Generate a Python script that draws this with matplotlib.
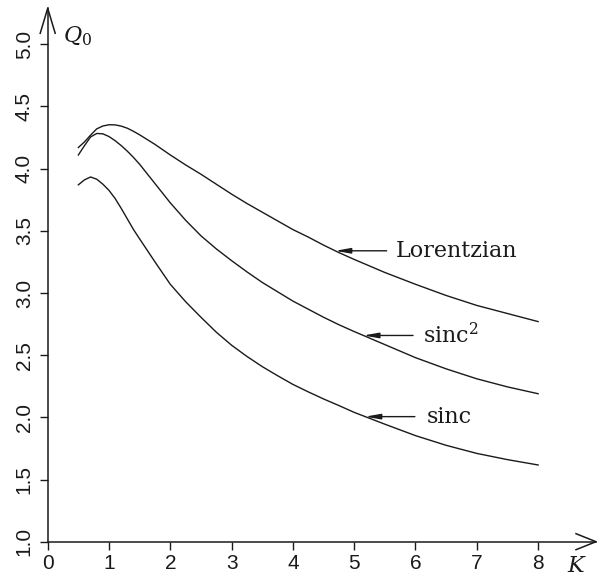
import numpy as np
import matplotlib
matplotlib.use("Agg")
import matplotlib.pyplot as plt

# Detection factor Q0 versus K for three line shapes
k_values = [0.5, 0.6, 0.7, 0.8, 0.9, 1.0, 1.1, 1.2, 1.3, 1.4, 1.5,
            1.75, 2.0, 2.25, 2.5, 2.75, 3.0, 3.25, 3.5, 3.75, 4.0, 4.25, 4.5, 4.75, 5.0,
            5.5, 6.0, 6.5, 7.0, 7.5, 8.0]
q_lorentzian = [4.17, 4.215, 4.27, 4.32, 4.343, 4.353, 4.352, 4.342, 4.325, 4.30, 4.272,
                4.195, 4.11, 4.03, 3.955, 3.875, 3.795, 3.72, 3.65, 3.58, 3.51, 3.45, 3.385,
                3.325, 3.27,
                3.165, 3.07, 2.98, 2.90, 2.835, 2.77]
q_sinc2 = [4.11, 4.185, 4.255, 4.283, 4.28, 4.258, 4.225, 4.185, 4.14, 4.09, 4.035,
           3.88, 3.725, 3.585, 3.46, 3.355, 3.26, 3.17, 3.085, 3.01, 2.935, 2.87, 2.805,
           2.745, 2.69,
           2.585, 2.48, 2.39, 2.31, 2.245, 2.19]
q_sinc = [3.87, 3.91, 3.933, 3.915, 3.875, 3.825, 3.76, 3.68, 3.595, 3.51, 3.435,
          3.25, 3.07, 2.93, 2.805, 2.685, 2.58, 2.49, 2.408, 2.335, 2.265, 2.205, 2.148,
          2.095, 2.04,
          1.945, 1.853, 1.775, 1.71, 1.66, 1.617]

series_names = ["Lorentzian", "sinc$^{2}$", "sinc"]
series_values = [q_lorentzian, q_sinc2, q_sinc]
arrow_tip_k = [4.69, 5.15, 5.18]
arrow_tail_k = [5.53, 5.96, 5.99]
label_k = [5.67, 6.12, 6.18]

x_ticks = [0, 1, 2, 3, 4, 5, 6, 7, 8]
y_ticks = [1.0, 1.5, 2.0, 2.5, 3.0, 3.5, 4.0, 4.5, 5.0]

ink = "#1a1a1a"
plt.rcParams["mathtext.fontset"] = "dejavuserif"

W, H = 597, 577
fig = plt.figure(figsize=(W / 100, H / 100), dpi=100)
x0_px, x_end_px = 47.7, 596.0
y0_px, y_top_px = 541.7, 8.3
ax = fig.add_axes([x0_px / W, 1 - y0_px / H, (x_end_px - x0_px) / W, (y0_px - y_top_px) / H])

xmax = (x_end_px - x0_px) / 61.3
ymax = 1.0 + (y0_px - y_top_px) / 124.35
ax.set_xlim(0, xmax)
ax.set_ylim(1.0, ymax)

for s in ["top", "right"]:
    ax.spines[s].set_visible(False)
for s in ["left", "bottom"]:
    ax.spines[s].set_linewidth(1.1)
    ax.spines[s].set_color(ink)

ax.set_xticks(x_ticks)
ax.set_xticklabels([str(v) for v in x_ticks])
ax.set_yticks(y_ticks)
ax.set_yticklabels([f"{v:.1f}" for v in y_ticks], rotation=90, va="center")
ax.tick_params(axis="both", direction="out", length=6, width=1.0, color=ink,
               labelcolor=ink, labelsize=15)
ax.tick_params(axis="x", pad=3)
ax.tick_params(axis="y", pad=4)
for lab in ax.get_xticklabels() + ax.get_yticklabels():
    lab.set_fontfamily("Liberation Sans")

# open arrowheads at the ends of the axes
px_x = 1 / 61.3
px_y = 1 / 124.35
ax.plot([xmax - 20 * px_x, xmax, xmax - 20 * px_x],
        [1.0 + 8 * px_y, 1.0, 1.0 - 8 * px_y], color=ink, lw=1.1, clip_on=False)
ax.plot([-7.5 * px_x, 0, 7.5 * px_x],
        [ymax - 25 * px_y, ymax, ymax - 25 * px_y], color=ink, lw=1.1, clip_on=False)

for name, vals, tip, tail, lx in zip(series_names, series_values,
                                      arrow_tip_k, arrow_tail_k, label_k):
    ax.plot(k_values, vals, color=ink, lw=1.0, solid_joinstyle="round")
    ty = float(np.interp(tip, k_values, vals))
    ax.annotate("", xy=(tip, ty), xytext=(tail, ty),
                arrowprops=dict(arrowstyle="-|>,head_length=0.9,head_width=0.16",
                                mutation_scale=10, color=ink, lw=1.0,
                                shrinkA=0, shrinkB=0))
    ax.text(lx, ty, name, fontsize=16, family="DejaVu Serif", color=ink,
            ha="left", va="center")

ax.text(0.25, 5.06, "$Q_0$", fontsize=16, color=ink, ha="left", va="center",
        clip_on=False)
ax.text(8.63, 0.805, "$K$", fontsize=16, color=ink, ha="center", va="center",
        clip_on=False)

fig.savefig("out.png", dpi=100)
